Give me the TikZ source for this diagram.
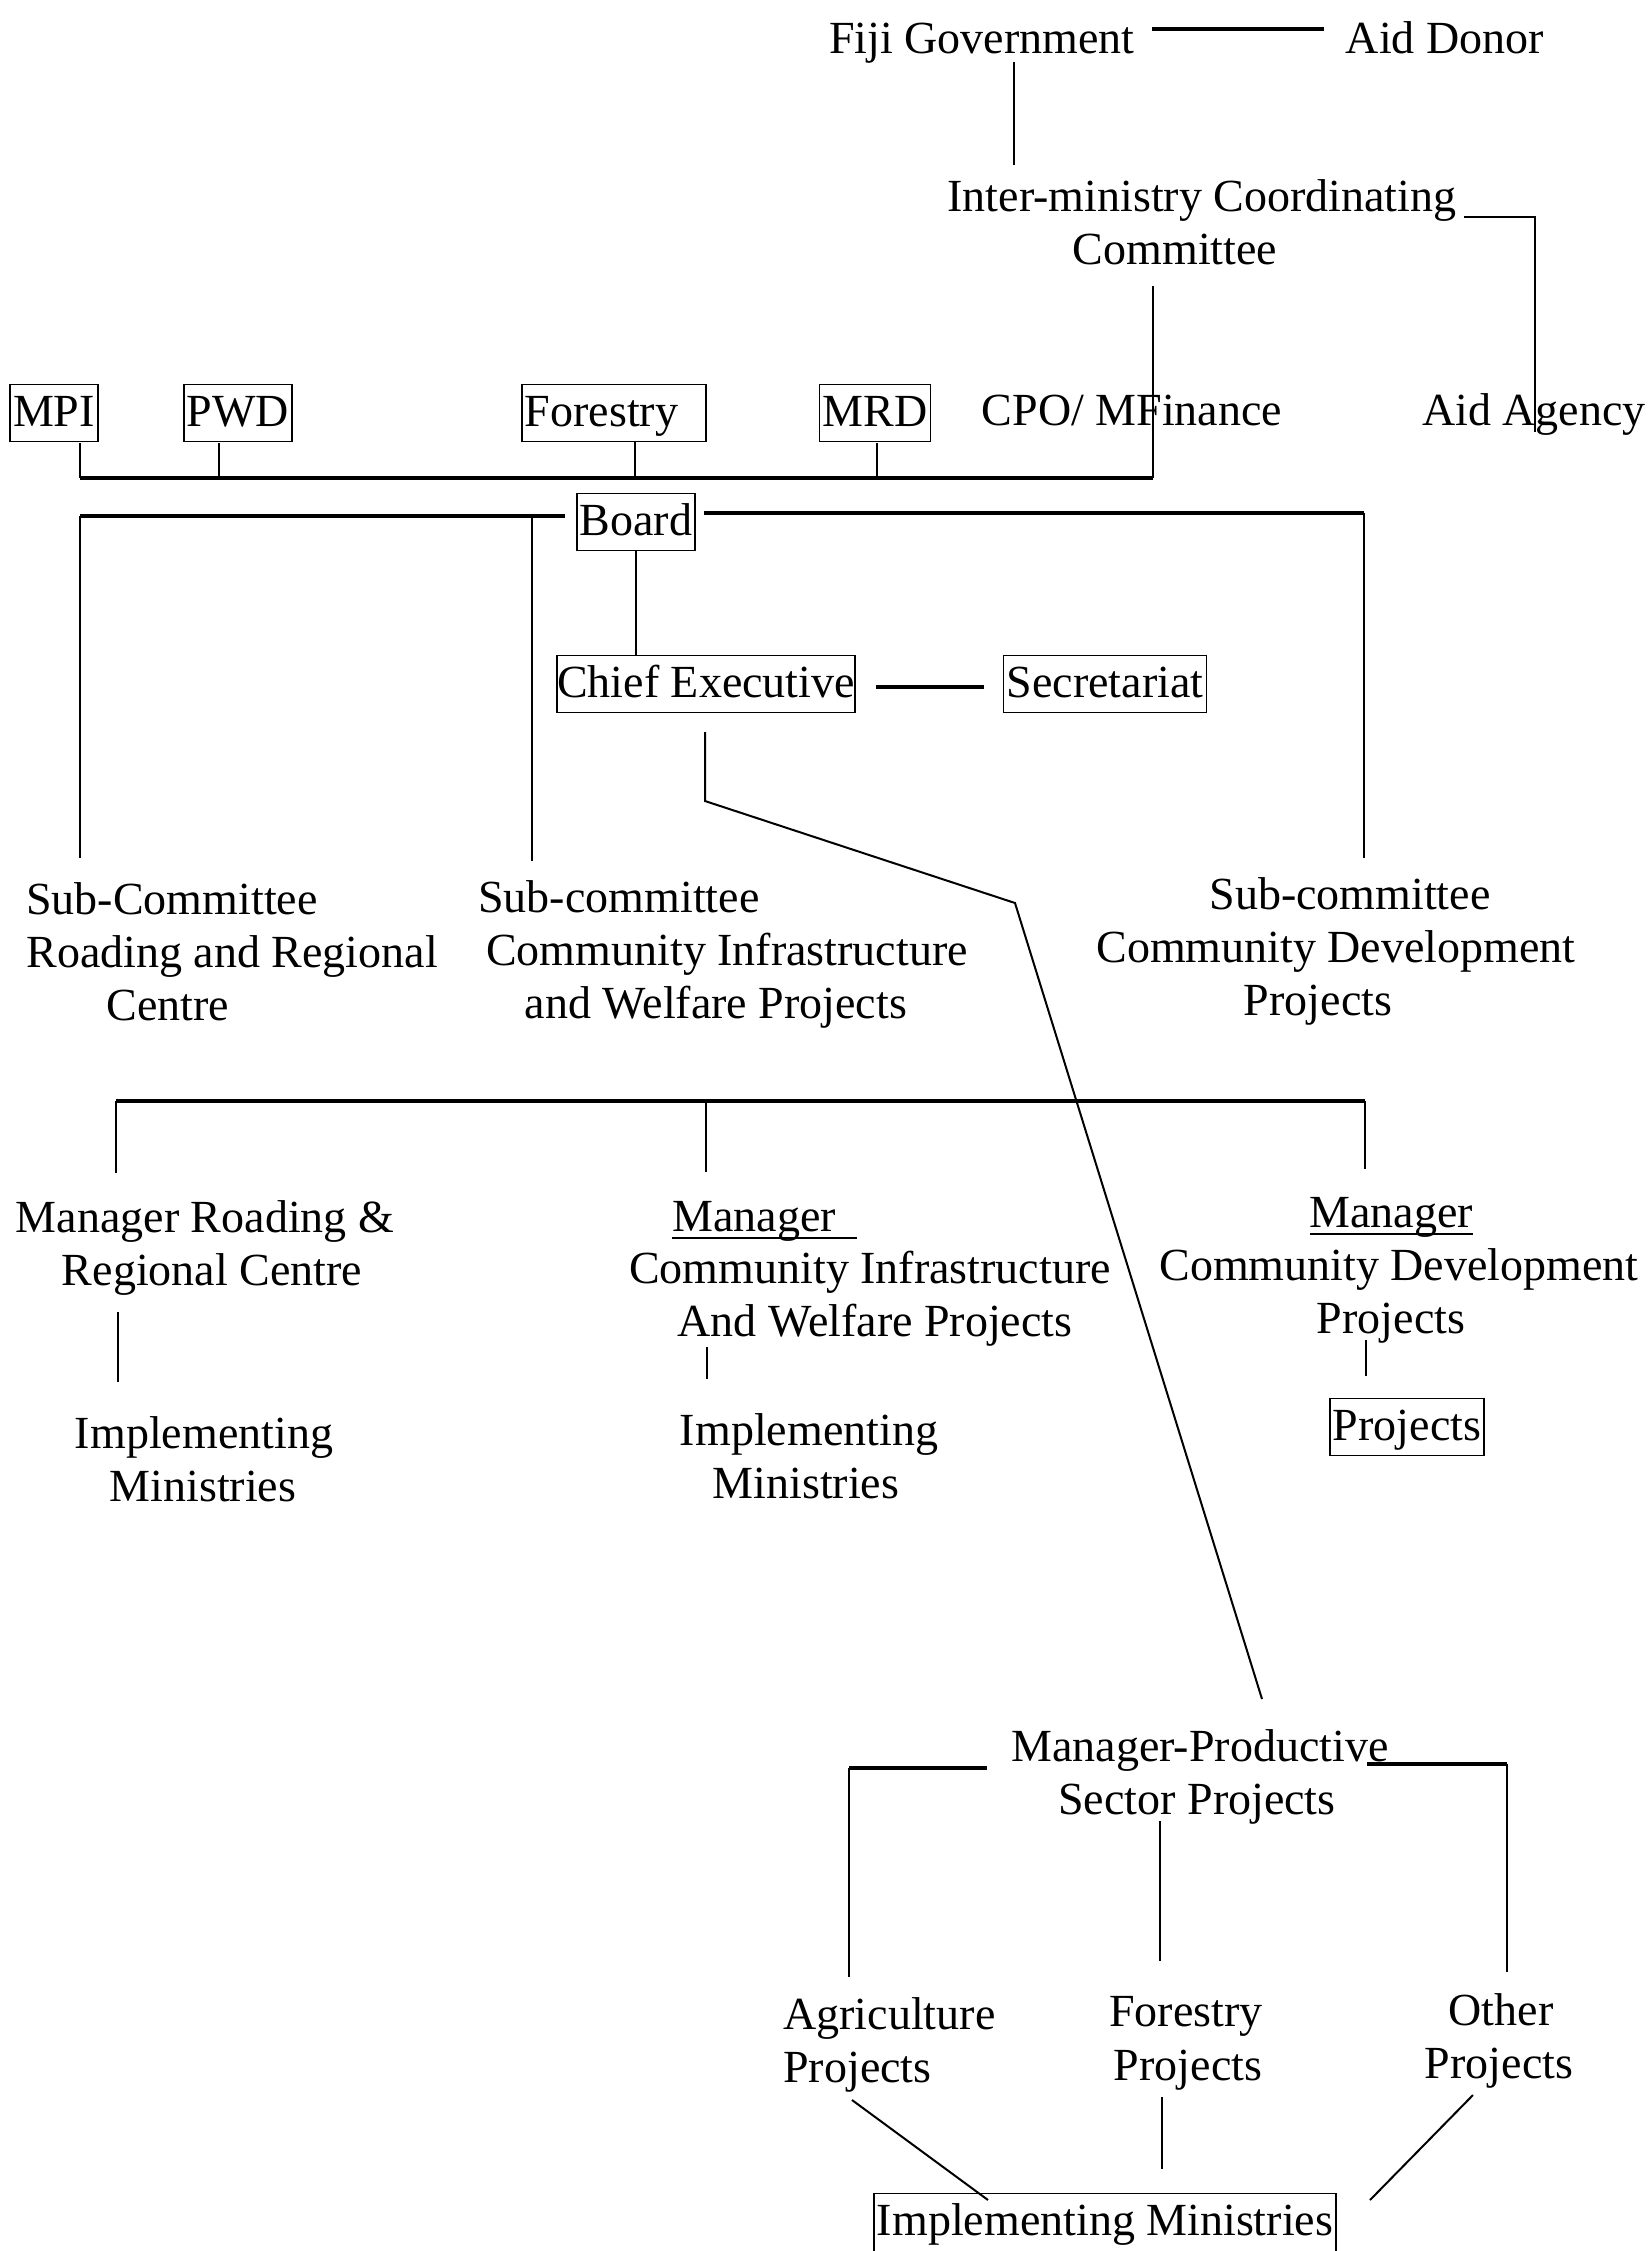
\documentclass[tikz,border=0pt]{standalone}
\usepackage{fontspec}
\setmainfont{Liberation Serif}
\begin{document}
\begin{tikzpicture}[x=0.5pt,y=-0.5pt,
  txt/.style={font=\fontsize{23}{26.5}\selectfont, inner sep=0pt, anchor=base, yshift=-2pt},
  bx/.style={txt, draw, line width=0.8pt, inner xsep=1.5pt, inner ysep=2.75pt, text height=18pt, text depth=5pt},
  ln/.style={line width=1pt},
  thk/.style={line width=1.6pt}]
\fill[white] (0,0) rectangle (1650,2251);
\useasboundingbox (0,0) rectangle (1650,2251);

% ---- nodes ----
\node[txt] (fiji) at (982,49) {Fiji Government};
\node[txt] (donor) at (1445,49) {Aid Donor};
\node[txt] (icc1) at (1202,207) {Inter-ministry Coordinating};
\node[txt] (icc2) at (1175,260) {Committee};
\node[bx] (mpi) at (54,422) {MPI};
\node[bx] (pwd) at (238,422) {PWD};
\node[bx, text width=89pt, align=left, anchor=base west] (forestry) at (521,422) {Forestry};
\node[bx] (mrd) at (875,422) {MRD};
\node[txt] (cpo) at (1132,421) {CPO/ MFinance};
\node[txt] (agency) at (1534,421) {Aid Agency};
\node[bx] (board) at (636,531) {Board};
\node[bx, inner xsep=0pt] (ce) at (706,693) {Chief Executive};
\node[bx] (sec) at (1105,693) {Secretariat};

\node[txt, anchor=base west] (scA1) at (26,910) {Sub-Committee};
\node[txt, anchor=base west] (scA2) at (26,963) {Roading and Regional};
\node[txt] (scA3) at (168,1016) {Centre};
\node[txt, anchor=base west] (scB1) at (478,908) {Sub-committee};
\node[txt] (scB2) at (727,961) {Community Infrastructure};
\node[txt] (scB3) at (716,1014) {and Welfare Projects};
\node[txt] (scC1) at (1350,905) {Sub-committee};
\node[txt] (scC2) at (1336,958) {Community Development};
\node[txt] (scC3) at (1318,1011) {Projects};

\node[txt] (mgA1) at (205,1228) {Manager Roading \&};
\node[txt] (mgA2) at (212,1281) {Regional Centre};
\node[txt] (imA1) at (204,1444) {Implementing};
\node[txt] (imA2) at (203,1497) {Ministries};
\node[txt, anchor=base west] (mgB1) at (672,1227) {Manager};
\node[txt] (mgB2) at (870,1279) {Community Infrastructure};
\node[txt] (mgB3) at (875,1332) {And Welfare Projects};
\node[txt] (imB1) at (809,1441) {Implementing};
\node[txt] (imB2) at (806,1494) {Ministries};
\node[txt] (mgC1) at (1391,1223) {Manager};
\node[txt] (mgC2) at (1399,1276) {Community Development};
\node[txt] (mgC3) at (1391,1329) {Projects};
\node[bx] (proj) at (1407,1436) {Projects};

\node[txt] (mp1) at (1200,1757) {Manager-Productive};
\node[txt] (mp2) at (1197,1810) {Sector Projects};
\node[txt, anchor=base west] (ag1) at (783,2025) {Agriculture};
\node[txt, anchor=base west] (ag2) at (783,2078) {Projects};
\node[txt] (fo1) at (1186,2022) {Forestry};
\node[txt] (fo2) at (1188,2076) {Projects};
\node[txt] (ot1) at (1501,2021) {Other};
\node[txt] (ot2) at (1499,2074) {Projects};
\node[bx, text depth=24pt] (im) at (1105,2231) {Implementing Ministries};

% ---- connector end points ----
\coordinate (fdA) at (1152,29);  \coordinate (fdB) at (1324,29);
\coordinate (fv1) at (1014,62);  \coordinate (fv2) at (1014,165);
\coordinate (ag0) at (1464,217); \coordinate (agE) at (1535,432);
\coordinate (cm1) at (1153,286); \coordinate (barR) at (1153,478);
\coordinate (barL) at (80,478);
\coordinate (tMPI) at (80,443); \coordinate (tPWD) at (219,443);
\coordinate (tFOR) at (635,442); \coordinate (tMRD) at (877,443);
\coordinate (bL) at (565,516); \coordinate (bLx) at (80,516); \coordinate (bLe) at (80,858);
\coordinate (bMx) at (532,516); \coordinate (bMe) at (532,861);
\coordinate (bR) at (704,513); \coordinate (bRx) at (1364,513); \coordinate (bRe) at (1364,858);
\coordinate (cs1) at (876,687); \coordinate (cs2) at (984,687);
\coordinate (cd0) at (705,732); \coordinate (cd1) at (705,801);
\coordinate (cd2) at (1015,903); \coordinate (cd3) at (1262,1699);
\coordinate (m2L) at (116,1101); \coordinate (m2R) at (1365,1101);
\coordinate (m2M) at (706,1101);
\coordinate (m2Le) at (116,1173); \coordinate (m2Me) at (706,1172); \coordinate (m2Re) at (1365,1169);
\coordinate (vA1) at (118,1312); \coordinate (vA2) at (118,1382);
\coordinate (vB1) at (707,1347); \coordinate (vB2) at (707,1379);
\coordinate (vC1) at (1366,1340); \coordinate (vC2) at (1366,1376);
\coordinate (pL0) at (987,1768); \coordinate (pLx) at (849,1768); \coordinate (pLe) at (849,1977);
\coordinate (pR0) at (1367,1764); \coordinate (pRx) at (1507,1764); \coordinate (pRe) at (1507,1972);
\coordinate (pM0) at (1160,1821); \coordinate (pMe) at (1160,1961);
\coordinate (ia0) at (852,2100); \coordinate (ia1) at (988,2200);
\coordinate (if0) at (1162,2097); \coordinate (if1) at (1162,2169);
\coordinate (io0) at (1473,2095); \coordinate (io1) at (1370,2200);

% ---- connectors ----
\draw[thk] (fdA) -- (fdB);
\draw[ln] (fv1) -- (fv2);
\draw[ln] (ag0) -- (ag0 -| agE) -- (agE);
\draw[ln] (cm1) -- (barR);
\draw[thk] (barL) -- (barR);
\draw[ln] (tMPI) -- (tMPI |- barL);
\draw[ln] (tPWD) -- (tPWD |- barL);
\draw[ln] (tFOR) -- (tFOR |- barL);
\draw[ln] (tMRD) -- (tMRD |- barL);
\draw[thk] (bL) -- (bLx);
\draw[ln] (bLx) -- (bLe);
\draw[ln] (bMx) -- (bMe);
\draw[thk] (bR) -- (bRx);
\draw[ln] (bRx) -- (bRe);
\draw[ln] (board.south) -- (board.south |- ce.north);
\draw[thk] (cs1) -- (cs2);
\draw[ln] (cd0) -- (cd1) -- (cd2) -- (cd3);
\draw[thk] (m2L) -- (m2R);
\draw[ln] (m2L) -- (m2Le);
\draw[ln] (m2M) -- (m2Me);
\draw[ln] (m2R) -- (m2Re);
\draw[ln] (vA1) -- (vA2);
\draw[ln] (vB1) -- (vB2);
\draw[ln] (vC1) -- (vC2);
\draw[thk] (pL0) -- (pLx); \draw[ln] (pLx) -- (pLe);
\draw[thk] (pR0) -- (pRx); \draw[ln] (pRx) -- (pRe);
\draw[ln] (pM0) -- (pMe);
\draw[ln] (ia0) -- (ia1);
\draw[ln] (if0) -- (if1);
\draw[ln] (io0) -- (io1);

% underlines
\draw[line width=0.9pt] (672,1238) -- (857,1238);
\draw[line width=0.9pt] (1310,1234) -- (1473,1234);
\end{tikzpicture}
\end{document}
